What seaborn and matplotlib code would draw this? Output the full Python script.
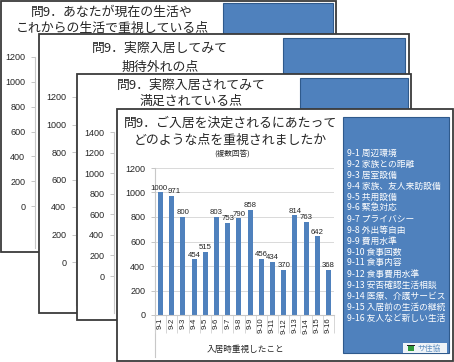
import matplotlib
matplotlib.use("Agg")
import matplotlib.pyplot as plt
import seaborn as sns
import pandas as pd
from matplotlib.patches import Rectangle
from matplotlib.lines import Line2D

plt.rcParams['font.family'] = ['Noto Sans CJK JP', 'DejaVu Sans']
NUMFONT = ['Liberation Sans', 'DejaVu Sans']

# ---------------- data ----------------
categories = ["9-1", "9-2", "9-3", "9-4", "9-5", "9-6", "9-7", "9-8",
              "9-9", "9-10", "9-11", "9-12", "9-13", "9-14", "9-15", "9-16"]
values = [1000, 971, 800, 454, 515, 803, 753, 790, 858, 456, 434, 370, 814, 763, 642, 368]
legend_items = ["周辺環境", "家族との距離", "居室設備", "家族、友人来訪設備", "共用設備",
                "緊急対応", "プライバシー", "外出等自由", "費用水準", "食事回数", "食事内容",
                "食事費用水準", "安否確認生活相談", "医療、介護サービス", "入居前の生活の継続",
                "友人など新しい生活"]
slide_titles = [
    ["問9．あなたが現在の生活や", "これからの生活で重視している点"],
    ["問9．実際入居してみて", "期待外れの点"],
    ["問9．実際入居されてみて", "満足されている点"],
    ["問9．ご入居を決定されるにあたって", "どのような点を重視されましたか"],
]
sub_title = "(複数回答)"
x_label = "入居時重視したこと"
back_ticks = [[0, 200, 400, 600, 800, 1000, 1200],
              [0, 200, 400, 600, 800, 1000, 1200],
              [0, 200, 400, 600, 800, 1000, 1200, 1400]]
main_ticks = [0, 200, 400, 600, 800, 1000, 1200]

W, H = 454, 362
BLUE = "#4F81BD"
EDGE = "#3a3a3a"
TXT = "#262626"

fig = plt.figure(figsize=(W / 100, H / 100), dpi=100)


def pax(x0, y0, x1, y1):
    """axes from pixel box (top-left origin)"""
    return fig.add_axes([x0 / W, 1 - y1 / H, (x1 - x0) / W, (y1 - y0) / H])


def background(box, blue, titles, tcx, tys, fs=9.3):
    bg = fig.add_axes([0, 0, 1, 1])
    bg.set_xlim(0, W)
    bg.set_ylim(H, 0)
    bg.axis('off')
    x0, y0, x1, y1 = box
    bg.add_patch(Rectangle((x0, y0), x1 - x0, y1 - y0, facecolor='white',
                           edgecolor=EDGE, lw=1.3))
    bx0, by0, bx1, by1 = blue
    bg.add_patch(Rectangle((bx0, by0), bx1 - bx0, by1 - by0, facecolor=BLUE,
                           edgecolor="#2f5a8c", lw=0.8))
    for t, ty in zip(titles, tys):
        bg.text(tcx, ty, t, ha='center', va='center', fontsize=fs, color=TXT)
    return bg


def style_yticks(ax):
    ax.tick_params(axis='y', length=3, width=0.6, color='#bbbbbb', pad=4,
                   labelsize=6.5, labelcolor=TXT)
    for lab in ax.get_yticklabels():
        lab.set_family(NUMFONT)


def back_axis(xa, ytop, y0px, ybot, top_val, ticks):
    per = (y0px - ytop) / top_val
    ax = pax(xa, ytop, xa + 60, ybot)
    ax.set_ylim(-(ybot - y0px) / per, top_val)
    ax.set_xlim(0, 1)
    for s in ['top', 'right', 'bottom']:
        ax.spines[s].set_visible(False)
    ax.spines['left'].set_color('#c8c8c8')
    ax.spines['left'].set_linewidth(0.8)
    ax.set_yticks(ticks)
    ax.set_yticklabels([str(t) for t in ticks])
    style_yticks(ax)
    ax.set_xticks([])
    ax.patch.set_alpha(0)
    return ax


# slide 1
background((1, 1, 336, 252), (223, 3, 333, 37), slide_titles[0], 112, [12, 28])
back_axis(35, 57, 206, 248, 1200, back_ticks[0])
# slide 2
background((39, 34, 409, 313), (283, 38, 405, 74), slide_titles[1], 160, [48, 67])
back_axis(76, 97, 262, 305, 1200, back_ticks[1])
# slide 3
background((77, 74, 411, 320), (300, 78, 408, 112), slide_titles[2], 191, [85, 101])
back_axis(114, 132, 276, 313, 1400, back_ticks[2])
# slide 4 (main)
bg4 = background((117, 109, 453, 361), (343, 117, 449, 353), slide_titles[3], 230, [123, 140])
bg4.text(232, 155, sub_title, ha='center', va='center', fontsize=5.5, color=TXT)
bg4.text(245, 349, x_label, ha='center', va='center', fontsize=6.2, color=TXT)
bg4.add_line(Line2D([155, 155], [315, 357], color='#c8c8c8', lw=0.8))
for i, item in enumerate(legend_items):
    bg4.text(347, 153 + i * 11, f"{categories[i]} {item}", ha='left', va='center',
             fontsize=6.3, color='white')
# logo
bg4.add_patch(Rectangle((403, 343), 44, 10, facecolor='#eef3f8', edgecolor='none'))
bg4.add_patch(Rectangle((408, 346), 6, 5, facecolor='#2e9a3a', edgecolor='none'))
bg4.add_patch(Rectangle((407, 344.5), 8, 1.5, facecolor='#222222', edgecolor='none'))
bg4.text(417, 348.5, "サ住協", ha='left', va='center', fontsize=5.6, color='#5f8fc0')

ax = pax(155, 168, 334, 315)
df = pd.DataFrame({"cat": categories, "val": values})
sns.barplot(data=df, x="cat", y="val", ax=ax, color=BLUE, saturation=1,
            width=0.45, order=categories)
ax.set_xlim(-0.5, len(categories) - 0.5)
ax.set_ylim(0, 1200)
ax.set_yticks(main_ticks)
ax.set_yticklabels([str(t) for t in main_ticks])
ax.yaxis.grid(True, color='#d9d9d9', lw=0.7)
ax.set_axisbelow(True)
for s in ['top', 'right']:
    ax.spines[s].set_visible(False)
for s in ['left', 'bottom']:
    ax.spines[s].set_color('#c8c8c8')
    ax.spines[s].set_linewidth(0.8)
ax.set_xlabel("")
ax.set_ylabel("")
style_yticks(ax)
ax.tick_params(axis='x', which='major', length=0, pad=2, labelsize=5.6,
               labelcolor=TXT, labelrotation=90)
for lab in ax.get_xticklabels():
    lab.set_family(NUMFONT)
ax.set_xticks([i - 0.5 for i in range(len(categories) + 1)], minor=True)
ax.tick_params(axis='x', which='minor', length=13, width=0.6, color='#d0d0d0')
for c in ax.containers:
    anns = ax.bar_label(c, labels=[str(v) for v in values], fontsize=5.6,
                        padding=0.5, color=TXT, family=NUMFONT)
    # small nudges so neighbouring labels do not collide (as in the reference)
    anns[0].xyann = (-1.5, anns[0].xyann[1])
    anns[1].xyann = (1.5, anns[1].xyann[1])

fig.savefig("out.png", dpi=100)
